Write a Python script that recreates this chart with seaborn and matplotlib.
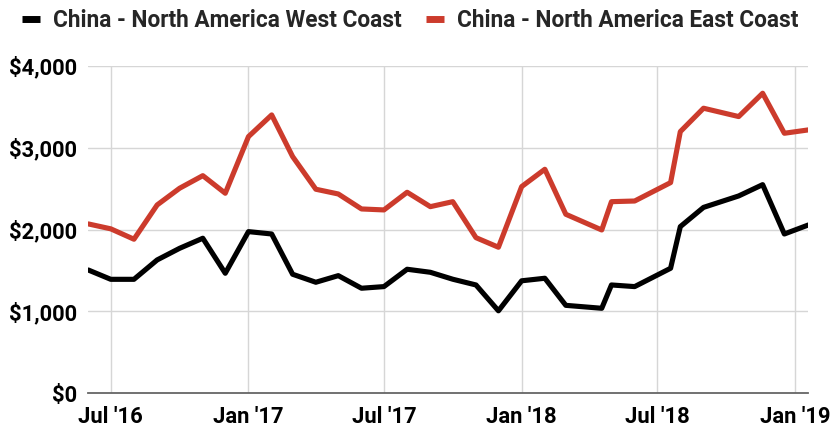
import pandas as pd
import numpy as np
import matplotlib
matplotlib.use("Agg")
import matplotlib.pyplot as plt
import matplotlib.dates as mdates
from matplotlib.lines import Line2D
from matplotlib.ticker import FuncFormatter
import seaborn as sns

# ---- data ----
dates = [
    "2016-06-01", "2016-07-01", "2016-08-01", "2016-09-01", "2016-10-01", "2016-11-01", "2016-12-01",
    "2017-01-01", "2017-02-01", "2017-03-01", "2017-04-01", "2017-05-01", "2017-06-01",
    "2017-07-01", "2017-08-01", "2017-09-01", "2017-10-01", "2017-11-01", "2017-12-01",
    "2018-01-01", "2018-02-01", "2018-03-01", "2018-04-18", "2018-05-01", "2018-06-01",
    "2018-07-19", "2018-08-01", "2018-09-01", "2018-10-18", "2018-11-19", "2018-12-18",
    "2019-01-19",
]
west_coast = [
    1507, 1393, 1393, 1630, 1772, 1895, 1467,
    1976, 1947, 1455, 1357, 1438, 1284,
    1304, 1516, 1479, 1394, 1324, 1008,
    1375, 1406, 1075, 1039, 1324, 1304,
    1528, 2037, 2272, 2412, 2550, 1947,
    2057,
]
east_coast = [
    2070, 2010, 1883, 2302, 2506, 2660, 2445,
    3137, 3402, 2893, 2494, 2436, 2253,
    2241, 2457, 2281, 2342, 1902, 1785,
    2526, 2738, 2188, 1996, 2342, 2350,
    2575, 3198, 3484, 3382, 3667, 3178,
    3219,
]
series_names = ["China - North America West Coast", "China - North America East Coast"]
series_colors = ["#000000", "#CC3B2C"]
y_ticks = [0, 1000, 2000, 3000, 4000]

df = pd.concat([
    pd.DataFrame({"date": pd.to_datetime(dates), "rate": west_coast, "route": series_names[0]}),
    pd.DataFrame({"date": pd.to_datetime(dates), "rate": east_coast, "route": series_names[1]}),
])

sns.set_style("white")
plt.rcParams["font.family"] = ["Roboto", "DejaVu Sans"]
plt.rcParams["font.weight"] = "bold"

fig = plt.figure(figsize=(8.34, 4.30), dpi=100)
ax = fig.add_axes([88.3 / 834, 1 - 393.3 / 430, (808.3 - 88.3) / 834, (393.3 - 66) / 430])

sns.lineplot(data=df, x="date", y="rate", hue="route", palette=dict(zip(series_names, series_colors)),
             linewidth=3.7, ax=ax, legend=False, zorder=3)

ax.set_xlim(df["date"].min(), df["date"].max())
ax.set_ylim(0, 4000)
ax.set_yticks(y_ticks)
ax.yaxis.set_major_formatter(FuncFormatter(lambda v, p: f"${v:,.0f}"))
ax.xaxis.set_major_locator(mdates.MonthLocator(bymonth=[1, 7]))
ax.xaxis.set_major_formatter(mdates.DateFormatter("%b '%y"))

ax.grid(True, color="#d6d6d6", linewidth=1.0, zorder=0)
ax.set_axisbelow(True)
for s in ["top", "right", "left"]:
    ax.spines[s].set_visible(False)
ax.spines["bottom"].set_color("#666666")
ax.spines["bottom"].set_linewidth(1.3)
ax.tick_params(axis="both", length=0, labelsize=15.8, colors="#000000")
ax.tick_params(axis="y", pad=8)
ax.tick_params(axis="x", pad=9)
for lab in ax.get_xticklabels() + ax.get_yticklabels():
    lab.set_fontweight("bold")
ax.set_xlabel("")
ax.set_ylabel("")

handles = [Line2D([0], [0], color=c, linewidth=5, solid_capstyle="butt") for c in series_colors]
fig.legend(handles, series_names, loc="upper left", bbox_to_anchor=(22 / 834, 1 - 9 / 430),
           ncol=2, frameon=False, borderpad=0, borderaxespad=0, handlelength=0.8,
           handletextpad=0.55, columnspacing=1.1,
           prop={"family": ["Roboto", "DejaVu Sans"], "weight": "bold", "size": 16.3})

fig.savefig("out.png", dpi=100)
